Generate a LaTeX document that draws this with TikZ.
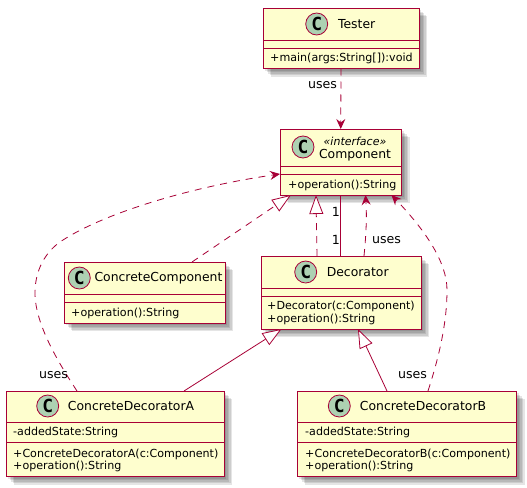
\documentclass[tikz,border=0pt]{standalone}
\usepackage{fontspec}
\setmainfont{DejaVu Sans}
\newfontfamily\spotfont{DejaVu Sans Mono}
\usetikzlibrary{arrows.meta,calc}
\definecolor{umlline}{HTML}{A80036}
\definecolor{umlfill}{HTML}{FEFECE}
\definecolor{umlspot}{HTML}{ADD1B2}
\tikzset{
  classbox/.style={draw=umlline,line width=0.95pt,fill=umlfill,inner sep=0pt,outer sep=0pt,rectangle},
  boxshade/.style={fill=black,opacity=0.1,draw=none},
  spot/.style={circle,draw=umlline,line width=0.8pt,fill=umlspot,minimum size=22pt,inner sep=0pt,font=\fontsize{18}{18}\selectfont\spotfont\bfseries},
  cname/.style={font=\fontsize{12.4}{14}\selectfont,inner sep=0pt},
  stereo/.style={font=\fontsize{11}{12}\selectfont\itshape,inner sep=0pt},
  member/.style={font=\fontsize{11.1}{12}\selectfont,anchor=west,inner sep=0pt},
  elabel/.style={font=\fontsize{12.6}{13}\selectfont,inner sep=0pt},
  rel/.style={draw=umlline,line width=0.8pt},
  uses/.style={rel,dash pattern=on 7pt off 6pt,-{Stealth[inset=3.5pt,length=10pt,width=9pt]}},
  realize/.style={rel,dash pattern=on 7pt off 6pt,-{Triangle[open,fill=white,length=19pt,width=14pt]}},
  extend/.style={rel,-{Triangle[open,fill=white,length=19pt,width=14pt]}},
  x=1pt,y=-1pt
}
% name, x1, y1, x2, y2, divider 1, divider 2
\newcommand{\classfig}[7]{%
  \foreach \s in {2,3.5,5,6.5,8}{\fill[boxshade] (#2+\s,#3+\s) rectangle (#4+\s,#5+\s);}
  \node[classbox,minimum width=#4pt-#2pt,minimum height=#5pt-#3pt] (#1) at ({(#2+#4)/2},{(#3+#5)/2}) {};
  \draw[draw=umlline,line width=0.95pt] (#2,#6) -- (#4,#6) (#2,#7) -- (#4,#7);
}
\begin{document}
\begin{tikzpicture}
\useasboundingbox (0,0) rectangle (527,487);
\fill[white] (0,0) rectangle (527,487);

\classfig{tester}{263}{8.5}{419}{68.5}{40}{48.5}
\classfig{comp}{280}{129}{401.5}{195}{166}{174}
\classfig{dec}{261}{256}{421}{329}{288}{296}
\classfig{cc}{64}{262}{225}{323}{294}{302}
\classfig{cda}{6}{391}{224}{476.5}{422}{442}
\classfig{cdb}{297}{391}{516.5}{476.5}{422}{442}

\node[spot] (s1) at (316.7,24) {C};
\node[cname] (n1) at (356.7,24) {Tester};
\node[member] (m1) at (270,58) {+main(args:String[]):void};

\node[spot] (s2) at (303,147) {C};
\node[stereo] (st2) at (355,141) {«interface»};
\node[cname] (n2) at (355,155.5) {Component};
\node[member] (m2) at (288,185) {+operation():String};

\node[spot] (s3) at (305.7,272) {C};
\node[cname] (n3) at (357.7,272) {Decorator};
\node[member] (m3a) at (267,306) {+Decorator(c:Component)};
\node[member] (m3b) at (267,319) {+operation():String};

\node[spot] (s4) at (79.3,278) {C};
\node[cname] (n4) at (158.5,278) {ConcreteComponent};
\node[member] (m4) at (71,313) {+operation():String};

\node[spot] (s5) at (47.7,406) {C};
\node[cname] (n5) at (131,406) {ConcreteDecoratorA};
\node[member] (m5a) at (13,432.5) {-addedState:String};
\node[member] (m5b) at (13,454) {+ConcreteDecoratorA(c:Component)};
\node[member] (m5c) at (13,466.5) {+operation():String};

\node[spot] (s6) at (339.3,406) {C};
\node[cname] (n6) at (423,406) {ConcreteDecoratorB};
\node[member] (m6a) at (305,432.5) {-addedState:String};
\node[member] (m6b) at (305,454) {+ConcreteDecoratorB(c:Component)};
\node[member] (m6c) at (305,466.5) {+operation():String};

% connectors
\draw[uses] (tester.south) -- (comp.north);
\draw[realize] ([xshift=128pt]cc.north west) -- ([xshift=11pt]comp.south west);
\draw[realize] ([xshift=56pt]dec.north west) -- ([xshift=36pt]comp.south west);
\draw[rel] (comp.south) -- (dec.north -| comp.south);
\draw[uses] ([xshift=103pt]dec.north west) .. controls +(2,-20) and +(1.5,22) .. ([xshift=85.5pt]comp.south west);
\draw[uses] ([xshift=71pt]cda.north west) .. controls (60,365) and (35,325) .. (35,293) .. controls (35,265) and (50,248) .. (63,240) .. controls (105,213) and (190,187) .. ([yshift=-45pt]comp.north west);
\draw[uses] ([xshift=131pt]cdb.north west) .. controls (438,360) and (447,325) .. (447,290) .. controls (447,262) and (425,230) .. ([xshift=111.5pt]comp.south west);
\draw[extend] ([xshift=178pt]cda.north west) -- ([xshift=20.5pt]dec.south west);
\draw[extend] ([xshift=90pt]cdb.north west) -- ([xshift=97pt]dec.south west);

% labels
\node[elabel] (l1) at (322.5,85) {uses};
\node[elabel] (l2) at (336,212) {1};
\node[elabel] (l3) at (336,240) {1};
\node[elabel] (l4) at (386.5,240) {uses};
\node[elabel] (l5) at (53.5,375) {uses};
\node[elabel] (l6) at (412.5,375) {uses};
\end{tikzpicture}
\end{document}
